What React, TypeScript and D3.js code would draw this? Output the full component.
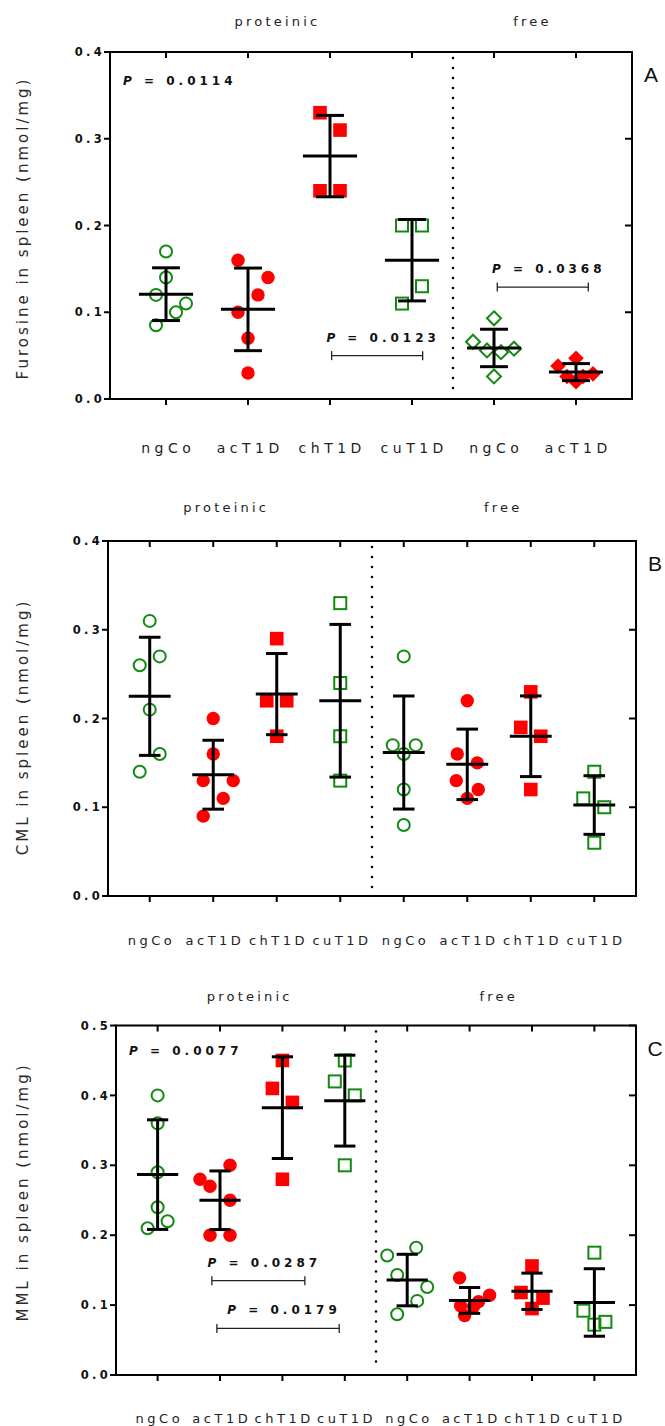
import React from "react";
import * as d3 from "d3";

// ---------- categories & tick labels ----------
const catsA = ["ngCo", "acT1D", "chT1D", "cuT1D", "ngCo", "acT1D"];
const catsBC = ["ngCo", "acT1D", "chT1D", "cuT1D", "ngCo", "acT1D", "chT1D", "cuT1D"];
const yTicksAB = [0, 0.1, 0.2, 0.3, 0.4];
const yTicksC = [0, 0.1, 0.2, 0.3, 0.4, 0.5];

// ---------- Panel A: Furosine ----------
const furNgCoProt = [0.17, 0.14, 0.12, 0.11, 0.10, 0.085];
const furNgCoProtJit = [0, 0, -1, 2, 1, -1];
const furAcProt = [0.16, 0.14, 0.12, 0.10, 0.07, 0.03];
const furAcProtJit = [-1, 2, 1, -1, 0, 0];
const furChProt = [0.33, 0.31, 0.24, 0.24];
const furChProtJit = [-1, 1, -1, 1];
const furCuProt = [0.20, 0.20, 0.13, 0.11];
const furCuProtJit = [-1, 1, 1, -1];
const furNgCoFree = [0.093, 0.066, 0.056, 0.054, 0.058, 0.026];
const furNgCoFreeJit = [0, -2.1, -0.7, 0.7, 2, 0];
const furAcFree = [0.047, 0.038, 0.029, 0.026, 0.026, 0.02];
const furAcFreeJit = [0, -1.8, 1.7, -0.9, 0.7, 0];

// ---------- Panel B: CML ----------
const cmlNgCoProt = [0.31, 0.27, 0.26, 0.21, 0.16, 0.14];
const cmlNgCoProtJit = [0, 1, -1, 0, 1, -1];
const cmlAcProt = [0.20, 0.16, 0.13, 0.13, 0.11, 0.09];
const cmlAcProtJit = [0, 0, -1, 2, 1, -1];
const cmlChProt = [0.29, 0.22, 0.22, 0.18];
const cmlChProtJit = [0, -1, 1, 0];
const cmlCuProt = [0.33, 0.24, 0.18, 0.13];
const cmlCuProtJit = [0, 0, 0, 0];
const cmlNgCoFree = [0.27, 0.17, 0.17, 0.16, 0.12, 0.08];
const cmlNgCoFreeJit = [0, -1.1, 1.2, 0, 0, 0];
const cmlAcFree = [0.22, 0.16, 0.15, 0.13, 0.12, 0.11];
const cmlAcFreeJit = [0, -1, 1, -1.1, 1.1, 0];
const cmlChFree = [0.23, 0.19, 0.18, 0.12];
const cmlChFreeJit = [0, -1, 1, 0];
const cmlCuFree = [0.14, 0.11, 0.10, 0.06];
const cmlCuFreeJit = [0, -1.1, 1, 0];

// ---------- Panel C: MML ----------
const mmlNgCoProt = [0.40, 0.36, 0.29, 0.24, 0.22, 0.21];
const mmlNgCoProtJit = [0, 0, 0, 0, 1, -1];
const mmlAcProt = [0.30, 0.28, 0.27, 0.25, 0.20, 0.20];
const mmlAcProtJit = [1, -2, -1, 1, -1, 1];
const mmlChProt = [0.45, 0.41, 0.39, 0.28];
const mmlChProtJit = [0, -1, 1, 0];
const mmlCuProt = [0.45, 0.42, 0.40, 0.30];
const mmlCuProtJit = [0, -1, 1, 0];
const mmlNgCoFree = [0.182, 0.171, 0.143, 0.126, 0.106, 0.087];
const mmlNgCoFreeJit = [0.9, -2, -1, 2, 1, -1];
const mmlAcFree = [0.139, 0.114, 0.105, 0.099, 0.098, 0.085];
const mmlAcFreeJit = [-1, 2, 0.9, -0.9, 0.4, -0.5];
const mmlChFree = [0.156, 0.118, 0.110, 0.095];
const mmlChFreeJit = [0, -1.1, 1.1, 0];
const mmlCuFree = [0.175, 0.092, 0.076, 0.072];
const mmlCuFreeJit = [0, -1.1, 1.1, 0];

// ---------- annotations ----------
const pOverallA = "0.0114";
const pOverallC = "0.0077";
const bracketsA = [
  { p: "0.0123", from: 2.02, to: 3.13, y: 0.05 },
  { p: "0.0368", from: 4.04, to: 5.15, y: 0.129 },
];
const bracketsC = [
  { p: "0.0287", from: 0.87, to: 2.36, y: 0.135 },
  { p: "0.0179", from: 0.95, to: 2.91, y: 0.0667 },
];

const GREEN = "#128a12";
const RED = "#ff0000";
const FONT = "'DejaVu Sans', Verdana, sans-serif";

type Series = { values: number[]; jit: number[]; shape: string; filled: boolean };

const protStyles = [
  { shape: "circle", filled: false },
  { shape: "circle", filled: true },
  { shape: "square", filled: true },
  { shape: "square", filled: false },
];

function mk(vals: number[], jit: number[], i: number, shapeOverride?: string): Series {
  const st = protStyles[i];
  return { values: vals, jit, shape: shapeOverride || st.shape, filled: st.filled };
}

const panels = [
  {
    key: "A",
    left: 110, right: 632, top: 52, bottom: 399, yMax: 0.4, pad: 0.683,
    ticks: yTicksAB, cats: catsA, divider: 3.5,
    series: [
      mk(furNgCoProt, furNgCoProtJit, 0),
      mk(furAcProt, furAcProtJit, 1),
      mk(furChProt, furChProtJit, 2),
      mk(furCuProt, furCuProtJit, 3),
      mk(furNgCoFree, furNgCoFreeJit, 0, "diamond"),
      mk(furAcFree, furAcFreeJit, 1, "diamond"),
    ],
    pOverall: pOverallA, pY: 0.3625, brackets: bracketsA,
    title: "Furosine in spleen (nmol/mg)", titleY: 228,
    groupLabels: [{ t: "proteinic", at: 1.34 }, { t: "free", at: 4.45 }],
    groupY: 26, catY: 453, catSize: 14, catLs: 4.5,
  },
  {
    key: "B",
    left: 108, right: 636, top: 541, bottom: 896, yMax: 0.4, pad: 0.657,
    ticks: yTicksAB, cats: catsBC, divider: 3.5,
    series: [
      mk(cmlNgCoProt, cmlNgCoProtJit, 0),
      mk(cmlAcProt, cmlAcProtJit, 1),
      mk(cmlChProt, cmlChProtJit, 2),
      mk(cmlCuProt, cmlCuProtJit, 3),
      mk(cmlNgCoFree, cmlNgCoFreeJit, 0),
      mk(cmlAcFree, cmlAcFreeJit, 1),
      mk(cmlChFree, cmlChFreeJit, 2),
      mk(cmlCuFree, cmlCuFreeJit, 3),
    ],
    pOverall: null, pY: 0, brackets: [],
    title: "CML in spleen (nmol/mg)", titleY: 727,
    groupLabels: [{ t: "proteinic", at: 1.18 }, { t: "free", at: 5.54 }],
    groupY: 512, catY: 945, catSize: 13, catLs: 3.5,
  },
  {
    key: "C",
    left: 116, right: 636, top: 1025.5, bottom: 1375, yMax: 0.5, pad: 0.667,
    ticks: yTicksC, cats: catsBC, divider: 3.5,
    series: [
      mk(mmlNgCoProt, mmlNgCoProtJit, 0),
      mk(mmlAcProt, mmlAcProtJit, 1),
      mk(mmlChProt, mmlChProtJit, 2),
      mk(mmlCuProt, mmlCuProtJit, 3),
      mk(mmlNgCoFree, mmlNgCoFreeJit, 0),
      mk(mmlAcFree, mmlAcFreeJit, 1),
      mk(mmlChFree, mmlChFreeJit, 2),
      mk(mmlCuFree, mmlCuFreeJit, 3),
    ],
    pOverall: pOverallC, pY: 0.458, brackets: bracketsC,
    title: "MML in spleen (nmol/mg)", titleY: 1192,
    groupLabels: [{ t: "proteinic", at: 1.45 }, { t: "free", at: 5.44 }],
    groupY: 1001, catY: 1423, catSize: 13, catLs: 3.5,
  },
];

function Marker({ x, y, shape, filled }: { x: number; y: number; shape: string; filled: boolean }) {
  const color = filled ? RED : GREEN;
  const fill = filled ? RED : "none";
  const stroke = filled ? "none" : color;
  if (shape === "circle") {
    return filled ? (
      <circle cx={x} cy={y} r={6.7} fill={fill} />
    ) : (
      <circle cx={x} cy={y} r={6} fill="none" stroke={stroke} strokeWidth={2} />
    );
  }
  if (shape === "square") {
    return filled ? (
      <rect x={x - 6.8} y={y - 6.8} width={13.6} height={13.6} fill={fill} />
    ) : (
      <rect x={x - 6} y={y - 6} width={12} height={12} fill="none" stroke={stroke} strokeWidth={2} />
    );
  }
  const h = filled ? 7.8 : 7;
  const d = `M${x},${y - h}L${x + h},${y}L${x},${y + h}L${x - h},${y}Z`;
  return <path d={d} fill={fill} stroke={stroke} strokeWidth={filled ? 0 : 2} />;
}

function PText({ x, y, p, anchor }: { x: number; y: number; p: string; anchor: string }) {
  return (
    <text x={x} y={y} textAnchor={anchor} fontFamily={FONT} fontWeight="bold" fontSize={12} letterSpacing={4} fill="#111">
      <tspan fontStyle="italic">P</tspan>
      <tspan> = {p}</tspan>
    </text>
  );
}

function Panel({ cfg }: { cfg: any }) {
  const n = cfg.cats.length;
  const x = d3.scaleLinear().domain([-cfg.pad, n - 1 + cfg.pad]).range([cfg.left, cfg.right]);
  const y = d3.scaleLinear().domain([0, cfg.yMax]).range([cfg.bottom, cfg.top]);
  const step = x(1) - x(0);
  const fmt = d3.format(".1f");
  const jitUnit = 10;
  const meanHalf = step * 0.33;
  const capHalf = step * 0.17;
  const divX = x(cfg.divider);
  return (
    <g>
      {/* frame */}
      <rect x={cfg.left} y={cfg.top} width={cfg.right - cfg.left} height={cfg.bottom - cfg.top} fill="none" stroke="#000" strokeWidth={2} />
      {/* y ticks left (outward) & right (inward) */}
      {cfg.ticks.map((t: number) => (
        <g key={"yt" + t}>
          <line x1={cfg.left - 6} x2={cfg.left} y1={y(t)} y2={y(t)} stroke="#000" strokeWidth={2} />
          <line x1={cfg.right - 7} x2={cfg.right} y1={y(t)} y2={y(t)} stroke="#000" strokeWidth={2} />
          <text x={cfg.left - 5} y={y(t)} dy="0.36em" textAnchor="end" fontFamily={FONT} fontWeight="bold" fontSize={11.5} letterSpacing={3.3} fill="#111">
            {fmt(t)}
          </text>
        </g>
      ))}
      {/* x ticks bottom (outward) & top (inward) */}
      {cfg.cats.map((c: string, i: number) => (
        <g key={"xt" + i}>
          <line x1={x(i)} x2={x(i)} y1={cfg.bottom} y2={cfg.bottom + 6} stroke="#000" strokeWidth={2} />
          <line x1={x(i)} x2={x(i)} y1={cfg.top} y2={cfg.top + 6} stroke="#000" strokeWidth={2} />
          <text x={x(i) + cfg.catLs / 2} y={cfg.catY} textAnchor="middle" fontFamily={FONT} fontSize={cfg.catSize} letterSpacing={cfg.catLs} fill="#222">
            {c}
          </text>
        </g>
      ))}
      {/* dotted divider */}
      <line x1={divX} x2={divX} y1={cfg.top + 6} y2={cfg.bottom - 4} stroke="#000" strokeWidth={2.6} strokeDasharray="0 10" strokeLinecap="round" />
      {/* markers */}
      {cfg.series.map((s: Series, i: number) =>
        s.values.map((v, j) => (
          <Marker key={`m${i}-${j}`} x={x(i) + s.jit[j] * jitUnit} y={y(v)} shape={s.shape} filled={s.filled} />
        ))
      )}
      {/* mean ± SD */}
      {cfg.series.map((s: Series, i: number) => {
        const m = d3.mean(s.values) as number;
        const sd = d3.deviation(s.values) as number;
        const cx = x(i);
        return (
          <g key={"eb" + i} stroke="#000" strokeWidth={3}>
            <line x1={cx} x2={cx} y1={y(m + sd)} y2={y(m - sd)} />
            <line x1={cx - meanHalf} x2={cx + meanHalf} y1={y(m)} y2={y(m)} />
            <line x1={cx - capHalf} x2={cx + capHalf} y1={y(m + sd)} y2={y(m + sd)} />
            <line x1={cx - capHalf} x2={cx + capHalf} y1={y(m - sd)} y2={y(m - sd)} />
          </g>
        );
      })}
      {/* overall P */}
      {cfg.pOverall && <PText x={cfg.left + 13} y={y(cfg.pY)} p={cfg.pOverall} anchor="start" />}
      {/* brackets */}
      {cfg.brackets.map((b: any, i: number) => {
        const x1 = x(b.from), x2 = x(b.to), yy = y(b.y);
        return (
          <g key={"br" + i}>
            <line x1={x1} x2={x2} y1={yy} y2={yy} stroke="#222" strokeWidth={1.3} />
            <line x1={x1} x2={x1} y1={yy - 4.5} y2={yy + 4.5} stroke="#222" strokeWidth={1.3} />
            <line x1={x2} x2={x2} y1={yy - 4.5} y2={yy + 4.5} stroke="#222" strokeWidth={1.3} />
            <PText x={(x1 + x2) / 2 + 6} y={yy - 14} p={b.p} anchor="middle" />
          </g>
        );
      })}
      {/* group labels */}
      {cfg.groupLabels.map((g: any, i: number) => (
        <text key={"gl" + i} x={x(g.at) + 1.6} y={cfg.groupY} textAnchor="middle" fontFamily={FONT} fontSize={13} letterSpacing={3.2} fill="#222">
          {g.t}
        </text>
      ))}
      {/* y title */}
      <text transform={`translate(28,${cfg.titleY}) rotate(-90)`} textAnchor="middle" fontFamily={FONT} fontSize={15} letterSpacing={3} fill="#2a2a2a">
        {cfg.title}
      </text>
      {/* panel letter */}
      <text x={cfg.right + 19} y={cfg.top + 30} textAnchor="middle" fontFamily="'Liberation Sans', Arial, sans-serif" fontSize={21} fill="#111">
        {cfg.key}
      </text>
    </g>
  );
}

export default function App() {
  return (
    <svg width={665} height={1426} style={{ position: "absolute", left: 0, top: 0, background: "#fff" }}>
      <rect width={665} height={1426} fill="#fff" />
      {panels.map((p) => (
        <Panel key={p.key} cfg={p} />
      ))}
    </svg>
  );
}
